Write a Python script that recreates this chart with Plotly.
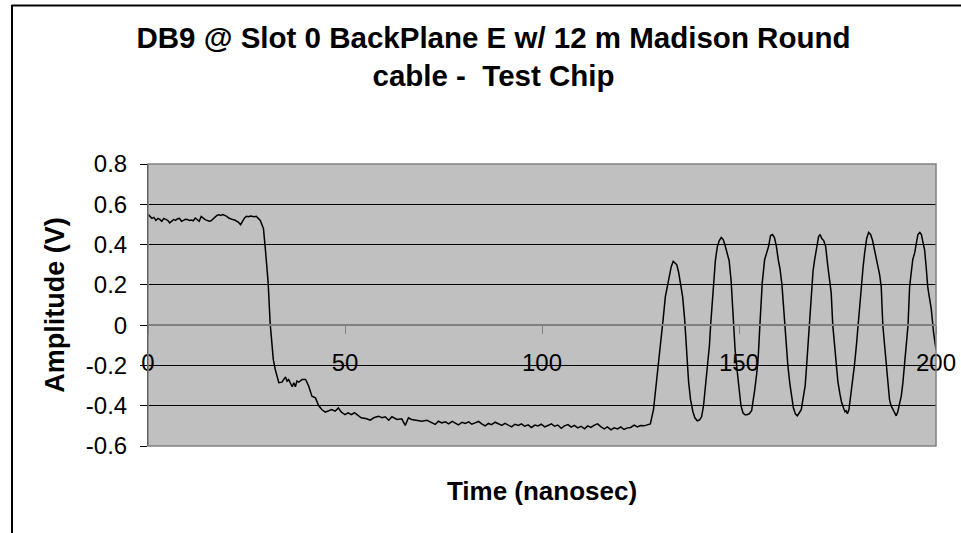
import plotly.graph_objects as go

# ---- data ----
time_ns = [
    0, 0.5, 1, 1.5, 2, 2.5, 3, 3.5, 4, 4.5, 5, 5.5, 6, 6.5, 7, 7.5, 8, 8.5, 9, 9.5,
    10, 10.5, 11, 11.5, 12, 12.5, 13, 13.5, 14, 14.5, 15, 15.5, 16, 16.5, 17, 17.5,
    18, 18.5, 19, 19.5, 20, 20.5, 21, 21.5, 22, 22.5, 23, 23.5, 24, 24.5, 25, 25.5,
    26, 26.5, 27, 27.5, 28, 28.5, 29, 29.3, 29.8, 30.5, 31.0, 31.5, 31.8, 32.3,
    33.2, 34.0, 34.9, 35.3, 35.7, 36.6, 37.0, 37.4, 37.8, 38.3, 39.1, 40.0, 40.8,
    41.6, 42.5, 43.3, 44.1, 45.0, 45.8, 46.6, 47.5, 48.3, 49.1, 50.0, 50.8, 51.6,
    52.4, 53.3, 54.1, 55.5, 56.4, 57.3, 58.5, 59.4, 60.2, 61.1, 61.9, 63.2, 64.4,
    65.3, 66.1, 66.9, 68.2, 69.5, 70.8, 72.0, 72.9, 73.7,
    74.6, 75.5, 76.3, 77.2, 78.0, 78.8, 79.7, 80.5, 81.4, 82.2, 83.0, 83.9, 84.7,
    85.6, 86.4, 87.2, 88.1, 88.9, 89.8, 90.6, 91.4, 92.3, 93.1, 94.0, 94.8, 95.6,
    96.5, 97.3, 98.2, 99.0, 99.8, 100.7, 101.5, 102.4, 103.2, 104.0, 104.9, 105.7,
    106.6, 107.4, 108.2, 109.1, 109.9, 110.8, 111.6, 112.4, 113.3, 114.1, 115.0,
    115.8, 116.6, 117.5, 118.3, 119.2, 120.0, 120.8, 121.7, 122.5, 123.4, 124.2,
    125.0, 125.9, 126.7, 127.5,
    128.3, 129.0, 129.7, 130.3, 130.8, 131.3, 131.9, 132.3, 132.8, 133.3, 133.8,
    134.2, 134.7, 135.2, 135.7, 136.2, 136.7, 137.2, 137.7, 138.3, 138.8, 139.4,
    140.0, 140.5, 141.0, 141.5, 142.0, 142.5, 142.8, 143.2, 143.6, 144.0, 144.5,
    145.0, 145.5, 146.0, 146.4, 147.0, 147.5, 148.0, 148.5, 149.0, 149.5, 150.0,
    150.5, 151.0, 151.5, 152.0, 152.6, 153.2, 153.6, 154.0, 154.5, 154.9, 155.3,
    155.9, 156.5, 157.0, 157.5, 158.0, 158.5, 159.0, 159.5, 160.0, 160.4, 160.9,
    161.6, 162.0, 162.4, 162.9, 163.3, 163.8, 164.3, 164.8, 165.3, 165.8, 166.3,
    166.8, 167.2, 167.6, 167.9, 168.4, 168.8, 169.2, 169.7, 170.2, 170.6, 171.0,
    171.5, 172.0, 172.5, 173.0, 173.4, 173.8, 174.2, 174.7, 175.1, 175.6, 176.0,
    176.5, 176.9, 177.2, 177.5, 177.9, 178.5, 178.9, 179.3, 179.8, 180.2, 180.6,
    181.0, 181.5, 181.9, 182.4, 182.9, 183.4, 183.9, 184.4, 184.9, 185.3, 185.7,
    186.1, 186.5, 187.0, 187.4, 187.8, 188.2, 188.6, 189.1, 189.5, 189.9, 190.3,
    190.7, 191.2, 191.6, 192.0, 192.4, 192.9, 193.3, 193.7, 194.1, 194.6, 195.0,
    195.4, 195.9, 196.3, 196.7, 197.1, 197.5, 197.9, 198.3, 198.8, 199.4, 200.0,
]

amplitude_v = [
    0.55, 0.54, 0.53, 0.535, 0.52, 0.53, 0.525, 0.515, 0.53, 0.525, 0.52, 0.508,
    0.515, 0.524, 0.52, 0.528, 0.53, 0.516, 0.52, 0.525, 0.524, 0.52, 0.522, 0.518,
    0.532, 0.522, 0.516, 0.54, 0.53, 0.524, 0.52, 0.516, 0.518, 0.528, 0.534, 0.545,
    0.548, 0.545, 0.549, 0.545, 0.54, 0.532, 0.527, 0.524, 0.522, 0.516, 0.51, 0.499,
    0.515, 0.532, 0.54, 0.538, 0.542, 0.54, 0.538, 0.54, 0.532, 0.52, 0.495, 0.48,
    0.375, 0.21, 0.01, -0.12, -0.17, -0.22,
    -0.286, -0.283, -0.257, -0.278, -0.270, -0.306, -0.286, -0.306, -0.278, -0.283,
    -0.270, -0.270, -0.303, -0.353, -0.361, -0.399, -0.419, -0.432, -0.427, -0.419,
    -0.427, -0.411, -0.432, -0.444, -0.435, -0.444, -0.435, -0.449, -0.460, -0.465,
    -0.472, -0.460, -0.452, -0.460, -0.455, -0.472, -0.455, -0.468, -0.465, -0.498,
    -0.460, -0.468, -0.472, -0.477, -0.472, -0.482, -0.493, -0.477,
    -0.485, -0.480, -0.490, -0.478, -0.485, -0.495, -0.482, -0.488, -0.480, -0.492,
    -0.485, -0.478, -0.490, -0.500, -0.488, -0.494, -0.482, -0.490, -0.498, -0.488,
    -0.495, -0.505, -0.492, -0.498, -0.490, -0.502, -0.495, -0.508, -0.496, -0.500,
    -0.492, -0.505, -0.498, -0.490, -0.502, -0.496, -0.512, -0.500, -0.494, -0.506,
    -0.498, -0.510, -0.502, -0.515, -0.500, -0.508, -0.496, -0.490, -0.505, -0.515,
    -0.505, -0.520, -0.510, -0.515, -0.505, -0.518, -0.510, -0.508, -0.496, -0.505,
    -0.498, -0.500, -0.495, -0.490,
    -0.42, -0.30, -0.15, -0.05, 0.04, 0.14, 0.20, 0.24, 0.29, 0.317, 0.31,
    0.30, 0.26, 0.20, 0.14, 0.03, -0.15, -0.28, -0.37, -0.43, -0.46, -0.475,
    -0.47, -0.455, -0.40, -0.31, -0.22, -0.10, 0.0, 0.12, 0.22, 0.32, 0.39,
    0.42, 0.435, 0.425, 0.40, 0.35, 0.32, 0.22, 0.02, -0.12, -0.22, -0.33,
    -0.40, -0.435, -0.445, -0.445, -0.44, -0.425, -0.38, -0.32, -0.24, -0.15, 0.0,
    0.21, 0.325, 0.36, 0.39, 0.445, 0.45, 0.435, 0.39, 0.32, 0.28, 0.20,
    0.0, -0.10, -0.20, -0.29, -0.35, -0.41, -0.44, -0.45, -0.435, -0.42, -0.36,
    -0.30, -0.19, -0.08, 0.0, 0.185, 0.27, 0.325, 0.39, 0.44, 0.45, 0.43,
    0.42, 0.39, 0.30, 0.22, 0.16, 0.0, -0.10, -0.20, -0.28, -0.34, -0.38,
    -0.41, -0.43, -0.425, -0.44, -0.42, -0.335, -0.27, -0.20, -0.10, 0.0, 0.10,
    0.19, 0.29, 0.36, 0.43, 0.46, 0.45, 0.42, 0.375, 0.33, 0.30, 0.25,
    0.19, 0.0, -0.11, -0.20, -0.32, -0.37, -0.40, -0.42, -0.44, -0.45, -0.43,
    -0.40, -0.35, -0.285, -0.20, -0.116, 0.0, 0.19, 0.27, 0.325, 0.36, 0.40,
    0.45, 0.46, 0.45, 0.41, 0.375, 0.29, 0.19, 0.14, 0.08, -0.04, -0.12,
]

x_tick_vals = [0, 50, 100, 150, 200]
x_tick_text = ["0", "50", "100", "150", "200"]
y_tick_vals = [-0.6, -0.4, -0.2, 0, 0.2, 0.4, 0.6, 0.8]
y_tick_text = ["-0.6", "-0.4", "-0.2", "0", "0.2", "0.4", "0.6", "0.8"]

title_text = "DB9 @ Slot 0 BackPlane E w/ 12 m Madison Round<br>cable -  Test Chip"
x_title = "Time (nanosec)"
y_title = "Amplitude (V)"

X_RANGE = [0, 200]
Y_RANGE = [-0.6, 0.8]

FONT = "Liberation Sans, Arial, sans-serif"

# plot-area pixel frame used for the decorative border
L, R, T, B = 148, 25, 164, 87
PW, PH = 961 - L - R, 533 - T - B

fig = go.Figure()
fig.add_trace(go.Scatter(
    x=time_ns, y=amplitude_v, mode="lines",
    line=dict(color="black", width=1.5),
    showlegend=False, hoverinfo="x+y",
))

zero_pos = (0 - Y_RANGE[0]) / (Y_RANGE[1] - Y_RANGE[0])

def px_x(p):
    return (p - L) / PW

def px_y(p):
    return (533 - B - p) / PH

fig.update_layout(
    width=961, height=533,
    margin=dict(l=L, r=R, t=T, b=B, pad=0, autoexpand=False),
    paper_bgcolor="white",
    plot_bgcolor="#c0c0c0",
    font=dict(family=FONT, color="black", size=24),
    title=dict(
        text=title_text,
        x=493.5 / 961, xref="container", xanchor="center",
        y=1 - 48 / 533, yref="container", yanchor="middle",
        font=dict(family=FONT, size=29.5, color="black", weight="bold"),
    ),
    xaxis=dict(
        range=X_RANGE, tickvals=x_tick_vals, ticktext=x_tick_text,
        anchor="free", position=zero_pos, automargin=False,
        showline=True, linecolor="#808080", linewidth=1.5,
        ticks="outside", ticklen=8, tickcolor="#808080", tickwidth=1,
        showgrid=False, zeroline=False,
        ticklabelstandoff=8,
        tickfont=dict(family=FONT, size=24, color="black"),
        title=dict(text=x_title, standoff=106,
                   font=dict(family=FONT, size=26, color="black", weight="bold")),
    ),
    yaxis=dict(
        range=Y_RANGE, tickvals=y_tick_vals, ticktext=y_tick_text,
        automargin=False,
        showline=True, linecolor="black", linewidth=1,
        ticks="outside", ticklen=7, tickcolor="black", tickwidth=1,
        showgrid=True, gridcolor="black", gridwidth=1,
        zeroline=False,
        ticklabelstandoff=8,
        tickfont=dict(family=FONT, size=24, color="black"),
        title=dict(text=y_title, standoff=13,
                   font=dict(family=FONT, size=27, color="black", weight="bold")),
    ),
    shapes=[
        # gray plot-area frame (top, right, bottom)
        dict(type="rect", xref="paper", yref="paper", x0=0, x1=1, y0=0, y1=1,
             line=dict(color="#808080", width=1.5), layer="above"),
        # outer chart-area border: top and left edges
        dict(type="line", xref="paper", yref="paper",
             x0=px_x(11.5), x1=px_x(961), y0=px_y(5.5), y1=px_y(5.5),
             line=dict(color="black", width=2), layer="above"),
        dict(type="line", xref="paper", yref="paper",
             x0=px_x(12), x1=px_x(12), y0=px_y(5), y1=px_y(533),
             line=dict(color="black", width=2), layer="above"),
    ],
)

fig.write_html(
    "out.html",
    config={"displayModeBar": False},
    post_script="document.body.style.margin='0';document.body.style.overflow='hidden';",
)
